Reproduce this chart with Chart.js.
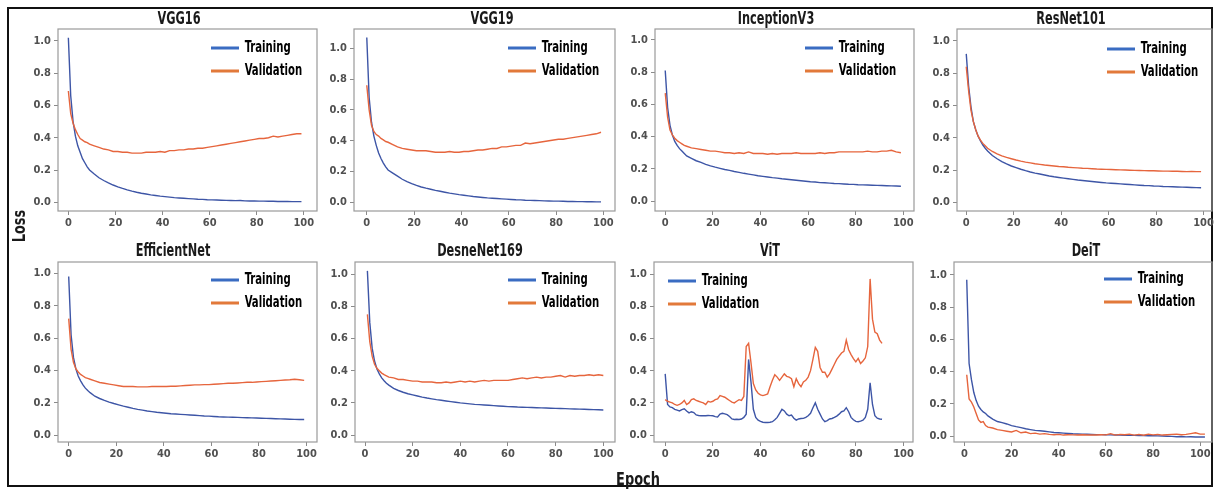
<!DOCTYPE html>
<html><head><meta charset="utf-8">
<script src="https://cdn.jsdelivr.net/npm/chart.js@4.4.1/dist/chart.umd.min.js"></script>
<style>
html,body{margin:0;padding:0;background:#fff;}
#wrap{position:relative;width:1217px;height:489px;overflow:hidden;background:#fff;}
#frame{position:absolute;left:7px;top:7px;width:1202px;height:476px;border:2px solid #111;}
canvas{position:absolute;}
.t{position:absolute;transform:translate(-50%,-50%) scaleX(0.74);font:bold 17px "Liberation Sans Narrow","DejaVu Sans Condensed",Arial,sans-serif;color:#1a1a1a;white-space:nowrap;}
.ax{position:absolute;font:bold 18px "Liberation Sans Narrow","DejaVu Sans Condensed",Arial,sans-serif;color:#1a1a1a;white-space:nowrap;}
</style></head><body>
<div id="wrap"><div id="frame"></div></div>
<script>
// ---------------- DATA ----------------
const xTicks = [0, 20, 40, 60, 80, 100];
const yTicks = [0.0, 0.2, 0.4, 0.6, 0.8, 1.0];
const seriesNames = ['Training', 'Validation'];

const epochs0 = [0,1,2,3,4,5,6,7,8,9,11,13,15,17,19,21,23,25,27,29,31,33,35,37,39,41,43,45,47,49,51,53,55,57,59,61,63,65,67,69,71,73,75,77,79,81,83,85,87,89,91,93,95,97,99];
const epochs1 = [1,2,3,4,5,6,7,8,9,10,12,14,16,18,20,22,24,26,28,30,32,34,36,38,40,42,44,46,48,50,52,54,56,58,60,62,64,66,68,70,72,74,76,78,80,82,84,86,88,90,92,94,96,98,100];
const deitEpochs = [1,2,3,4,5,6,7,8,9,10,12,14,16,18,20,22,24,26,28,30,32,34,36,38,40,42,44,46,48,50,52,54,56,58,60,62,64,66,68,70,72,74,76,78,80,82,84,86,88,90,92,94,96,98,100,102];
const vitEpochs = [0,1,2,3,4,5,6,7,8,9,10,11,12,13,14,15,16,17,18,19,20,21,22,23,24,25,26,27,28,29,30,31,32,33,34,35,36,37,38,39,40,41,42,43,44,45,46,47,48,49,50,51,52,53,54,55,56,57,58,59,60,61,62,63,64,65,66,67,68,69,70,71,72,73,74,75,76,77,78,79,80,81,82,83,84,85,86,87,88,89,90,91];

const vgg16Train = [1.02,0.66,0.5,0.41,0.35,0.31,0.27,0.245,0.22,0.2,
 0.175,0.152,0.135,0.12,0.107,0.096,0.086,0.077,0.069,0.062,
 0.056,0.051,0.046,0.042,0.038,0.035,0.032,0.029,0.027,0.025,
 0.023,0.021,0.019,0.018,0.016,0.015,0.014,0.013,0.012,0.011,
 0.01,0.011,0.009,0.008,0.008,0.007,0.007,0.006,0.006,0.005,
 0.005,0.005,0.004,0.004,0.004];
const vgg16Val = [0.69,0.55,0.49,0.45,0.42,0.395,0.385,0.375,0.37,0.36,
 0.35,0.34,0.33,0.325,0.315,0.315,0.31,0.31,0.305,0.305,
 0.305,0.31,0.31,0.31,0.315,0.31,0.32,0.32,0.325,0.325,
 0.33,0.33,0.335,0.335,0.34,0.345,0.35,0.355,0.36,0.365,
 0.37,0.375,0.38,0.385,0.39,0.395,0.395,0.4,0.41,0.405,
 0.41,0.415,0.42,0.425,0.425];

const vgg19Train = [1.07,0.68,0.52,0.43,0.37,0.32,0.285,0.255,0.23,0.21,
 0.19,0.17,0.15,0.135,0.122,0.11,0.1,0.092,0.085,0.078,
 0.072,0.066,0.06,0.055,0.05,0.046,0.042,0.038,0.035,0.032,
 0.029,0.027,0.025,0.023,0.021,0.019,0.017,0.016,0.014,0.013,
 0.012,0.011,0.01,0.009,0.008,0.008,0.007,0.006,0.006,0.005,
 0.005,0.004,0.004,0.003,0.003];
const vgg19Val = [0.76,0.6,0.5,0.46,0.44,0.43,0.415,0.405,0.395,0.39,
 0.375,0.36,0.35,0.345,0.34,0.335,0.335,0.335,0.33,0.325,
 0.325,0.325,0.33,0.325,0.325,0.33,0.33,0.335,0.34,0.34,
 0.345,0.35,0.35,0.36,0.36,0.365,0.37,0.37,0.385,0.38,
 0.385,0.39,0.395,0.4,0.405,0.41,0.41,0.415,0.42,0.425,
 0.43,0.435,0.44,0.445,0.455];

const inceptionTrain = [0.81,0.58,0.47,0.41,0.37,0.345,0.325,0.31,0.295,0.28,
 0.265,0.25,0.24,0.228,0.218,0.21,0.203,0.196,0.19,0.183,
 0.178,0.172,0.167,0.162,0.157,0.153,0.149,0.145,0.142,0.138,
 0.135,0.132,0.129,0.126,0.123,0.12,0.118,0.114,0.113,0.111,
 0.109,0.108,0.106,0.104,0.103,0.101,0.1,0.099,0.098,0.097,
 0.096,0.095,0.094,0.093,0.092];
const inceptionVal = [0.67,0.52,0.44,0.41,0.39,0.375,0.365,0.355,0.345,0.34,
 0.33,0.325,0.32,0.315,0.31,0.31,0.305,0.3,0.3,0.295,
 0.3,0.295,0.305,0.295,0.295,0.295,0.29,0.295,0.29,0.295,
 0.295,0.295,0.3,0.295,0.295,0.295,0.295,0.3,0.295,0.3,
 0.3,0.305,0.305,0.305,0.305,0.305,0.305,0.31,0.305,0.305,
 0.31,0.31,0.315,0.305,0.3];

const resnetTrain = [0.92,0.72,0.59,0.5,0.45,0.41,0.38,0.355,0.335,0.318,
 0.29,0.27,0.252,0.238,0.225,0.215,0.205,0.196,0.188,0.181,
 0.175,0.169,0.163,0.158,0.154,0.15,0.146,0.142,0.138,0.135,
 0.132,0.129,0.126,0.123,0.12,0.118,0.116,0.114,0.112,0.11,
 0.108,0.106,0.104,0.103,0.101,0.1,0.098,0.097,0.096,0.095,
 0.094,0.093,0.092,0.091,0.09];
const resnetVal = [0.84,0.69,0.57,0.5,0.45,0.41,0.385,0.365,0.35,0.335,
 0.315,0.3,0.288,0.278,0.27,0.262,0.255,0.249,0.244,0.239,
 0.235,0.231,0.228,0.225,0.222,0.22,0.217,0.215,0.213,0.211,
 0.21,0.208,0.206,0.205,0.204,0.203,0.202,0.201,0.2,0.199,
 0.198,0.197,0.196,0.195,0.195,0.194,0.193,0.193,0.192,0.192,
 0.191,0.19,0.191,0.19,0.19];

const effnetTrain = [0.98,0.62,0.48,0.41,0.365,0.335,0.31,0.29,0.275,0.262,
 0.24,0.226,0.214,0.204,0.195,0.187,0.179,0.172,0.165,0.159,
 0.154,0.149,0.145,0.141,0.138,0.135,0.132,0.13,0.128,0.126,
 0.124,0.122,0.12,0.118,0.117,0.115,0.113,0.112,0.111,0.11,
 0.109,0.108,0.107,0.106,0.105,0.104,0.103,0.102,0.101,0.1,
 0.099,0.098,0.097,0.096,0.096];
const effnetVal = [0.72,0.53,0.45,0.41,0.39,0.375,0.365,0.355,0.35,0.345,
 0.335,0.325,0.32,0.315,0.31,0.305,0.3,0.3,0.3,0.298,
 0.298,0.298,0.3,0.3,0.3,0.3,0.302,0.302,0.304,0.306,
 0.308,0.31,0.31,0.312,0.312,0.314,0.316,0.318,0.32,0.32,
 0.322,0.324,0.326,0.326,0.328,0.33,0.332,0.334,0.336,0.338,
 0.34,0.342,0.345,0.342,0.338];

const densenetTrain = [1.02,0.7,0.54,0.46,0.41,0.38,0.355,0.337,0.322,0.31,
 0.29,0.277,0.266,0.257,0.25,0.243,0.236,0.23,0.225,0.22,
 0.216,0.212,0.208,0.204,0.2,0.197,0.194,0.191,0.189,0.187,
 0.185,0.183,0.181,0.179,0.177,0.176,0.174,0.173,0.172,0.171,
 0.17,0.169,0.168,0.167,0.166,0.165,0.164,0.163,0.162,0.161,
 0.16,0.159,0.158,0.157,0.156];
const densenetVal = [0.75,0.58,0.49,0.44,0.415,0.4,0.385,0.375,0.368,0.36,
 0.355,0.345,0.345,0.34,0.335,0.335,0.33,0.33,0.33,0.325,
 0.325,0.33,0.325,0.33,0.335,0.33,0.335,0.33,0.335,0.34,
 0.335,0.34,0.34,0.34,0.34,0.345,0.35,0.355,0.35,0.355,
 0.36,0.355,0.36,0.36,0.365,0.37,0.36,0.37,0.365,0.37,
 0.37,0.375,0.37,0.375,0.37];

const vitTrain = [0.38,0.19,0.175,0.17,0.16,0.155,0.15,0.158,0.163,0.15,
 0.138,0.145,0.14,0.125,0.122,0.12,0.121,0.12,0.122,0.121,
 0.12,0.115,0.112,0.13,0.135,0.132,0.127,0.115,0.1,0.097,
 0.098,0.097,0.1,0.11,0.13,0.47,0.33,0.16,0.11,0.093,
 0.085,0.08,0.078,0.078,0.08,0.083,0.095,0.11,0.135,0.16,
 0.15,0.13,0.12,0.124,0.105,0.093,0.1,0.103,0.104,0.11,
 0.12,0.135,0.17,0.2,0.16,0.13,0.1,0.083,0.09,0.1,
 0.103,0.11,0.118,0.13,0.145,0.15,0.17,0.145,0.11,0.095,
 0.085,0.083,0.087,0.093,0.11,0.16,0.325,0.19,0.12,0.105,
 0.1,0.098];
const vitVal = [0.22,0.21,0.205,0.2,0.19,0.185,0.19,0.2,0.215,0.19,
 0.2,0.22,0.225,0.215,0.21,0.205,0.2,0.19,0.21,0.205,
 0.21,0.22,0.225,0.245,0.24,0.235,0.225,0.215,0.205,0.2,
 0.21,0.22,0.215,0.24,0.55,0.57,0.45,0.32,0.28,0.26,
 0.25,0.245,0.25,0.255,0.3,0.34,0.375,0.36,0.34,0.36,
 0.38,0.365,0.36,0.35,0.3,0.35,0.32,0.3,0.33,0.34,
 0.36,0.4,0.47,0.545,0.52,0.42,0.39,0.39,0.36,0.38,
 0.41,0.44,0.47,0.49,0.51,0.52,0.59,0.53,0.5,0.475,
 0.455,0.476,0.445,0.46,0.48,0.55,0.97,0.72,0.64,0.63,
 0.59,0.57];

const deitTrain = [0.97,0.45,0.35,0.27,0.22,0.185,0.165,0.15,0.14,0.125,
 0.105,0.09,0.083,0.075,0.065,0.058,0.052,0.045,0.04,0.035,
 0.033,0.03,0.026,0.022,0.02,0.018,0.016,0.014,0.013,0.012,
 0.011,0.01,0.009,0.009,0.008,0.007,0.006,0.006,0.005,0.004,
 0.004,0.003,0.003,0.002,0.002,0.001,0.0,-0.001,-0.002,-0.004,
 -0.003,-0.005,-0.004,-0.006,-0.006,-0.006];
const deitVal = [0.38,0.23,0.21,0.18,0.14,0.1,0.085,0.09,0.065,0.055,
 0.05,0.04,0.035,0.03,0.025,0.035,0.02,0.025,0.015,0.018,
 0.012,0.015,0.01,0.008,0.01,0.006,0.008,0.007,0.006,0.008,
 0.006,0.007,0.006,0.008,0.007,0.015,0.006,0.01,0.008,0.012,
 0.006,0.01,0.005,0.012,0.007,0.01,0.006,0.008,0.01,0.012,
 0.008,0.01,0.015,0.02,0.012,0.012];

// ---------------- LAYOUT / STYLE ----------------
const FONT = '"Liberation Sans Narrow", "DejaVu Sans Condensed", Arial, sans-serif';
const lineColors = ['#3d55a6', '#e6653d'];
const legendColors = ['#3a6cc2', '#e2793a'];
const LEGEND_SCALE = 0.75;

const panels = [
  {title:'VGG16', ep:epochs0, tr:vgg16Train, va:vgg16Val, box:[58,29,317,211], xr:[-4.4,105.6], yr:[-0.054,1.074], lg:[211,48], tp:[179,18]},
  {title:'VGG19', ep:epochs0, tr:vgg19Train, va:vgg19Val, box:[354,29,615,211], xr:[-5.4,104.9], yr:[-0.056,1.125], lg:[508,48], tp:[492,18]},
  {title:'InceptionV3', ep:epochs0, tr:inceptionTrain, va:inceptionVal, box:[655,29,914,211], xr:[-4.3,104.5], yr:[-0.062,1.068], lg:[805,48], tp:[776,18]},
  {title:'ResNet101', ep:epochs0, tr:resnetTrain, va:resnetVal, box:[957,29,1212,211], xr:[-3.9,103.6], yr:[-0.054,1.074], lg:[1107,49], tp:[1071,18]},
  {title:'EfficientNet', ep:epochs0, tr:effnetTrain, va:effnetVal, box:[58,262,317,442], xr:[-4.5,104.4], yr:[-0.043,1.07], lg:[211,280], tp:[173,250]},
  {title:'DesneNet169', ep:epochs1, tr:densenetTrain, va:densenetVal, box:[355,262,615,442], xr:[-4.2,104.9], yr:[-0.043,1.075], lg:[508,280], tp:[480,250]},
  {title:'ViT', ep:vitEpochs, tr:vitTrain, va:vitVal, box:[654,262,913,442], xr:[-4.7,104], yr:[-0.043,1.075], lg:[668,281], tp:[770,250]},
  {title:'DeiT', ep:deitEpochs, tr:deitTrain, va:deitVal, box:[954,262,1212,442], xr:[-4.4,105], yr:[-0.037,1.08], lg:[1104,279], tp:[1086,250]}
];

const wrap = document.getElementById('wrap');

const framePlugin = {
  id: 'frame',
  afterDraw(chart) {
    const a = chart.chartArea, ctx = chart.ctx;
    ctx.save();
    ctx.strokeStyle = '#9a9a9a';
    ctx.lineWidth = 1.2;
    ctx.strokeRect(a.left, a.top, a.right - a.left, a.bottom - a.top);
    ctx.restore();
  }
};

// places the Chart.js legend inside the plot and draws it horizontally condensed
const legendPlace = {
  id: 'legendPlace',
  beforeDraw(chart, args, opts) {
    const l = chart.legend;
    if (!l) return;
    const lab = chart.options.plugins.legend.labels;
    const pad = lab.padding, fs = lab.font.size;
    const S = opts.scale;
    // legend internal coordinates are unscaled around x0 = opts.x
    l.left = opts.x - pad * S;
    l.left = opts.x - pad; // cursor.x = left + pad
    l.width = 300; l.right = l.left + 300;
    l.top = opts.y - fs / 2 - pad;
    l.height = 140; l.bottom = l.top + 140;
    if (!l._wrapped) {
      const orig = l.draw.bind(l);
      l.draw = function (area) {
        const ctx = this.ctx;
        const x0 = this.left + this.options.labels.padding;
        ctx.save();
        ctx.translate(x0, 0);
        ctx.scale(S, 1);
        ctx.translate(-x0, 0);
        orig(area);
        ctx.restore();
      };
      l._wrapped = true;
    }
  }
};

function makePanel(p) {
  const padT = 10, padR = 12, yW = 50, xH = 24;
  const [L, T, R, B] = p.box;
  const cv = document.createElement('canvas');
  const w = R - L + yW + padR, h = B - T + padT + xH;
  const cl = L - yW, ct = T - padT;
  cv.width = w; cv.height = h;
  cv.style.left = cl + 'px'; cv.style.top = ct + 'px';
  cv.style.width = w + 'px'; cv.style.height = h + 'px';
  wrap.appendChild(cv);

  const tickFont = {family: FONT, size: 11, weight: 'bold'};
  new Chart(cv, {
    type: 'line',
    data: {
      datasets: [
        {label: seriesNames[0], data: p.ep.map((x, i) => ({x: x, y: p.tr[i]})), borderColor: lineColors[0], backgroundColor: lineColors[0], borderWidth: 1.4, pointRadius: 0, tension: 0, order: 2},
        {label: seriesNames[1], data: p.ep.map((x, i) => ({x: x, y: p.va[i]})), borderColor: lineColors[1], backgroundColor: lineColors[1], borderWidth: 1.4, pointRadius: 0, tension: 0, order: 1}
      ]
    },
    options: {
      responsive: false, animation: false, devicePixelRatio: 1,
      layout: {padding: {left: 0, top: padT, right: padR, bottom: 0}},
      events: [],
      scales: {
        x: {
          type: 'linear', min: p.xr[0], max: p.xr[1],
          afterFit: s => { s.height = xH; },
          afterBuildTicks: s => { s.ticks = xTicks.map(v => ({value: v})); },
          ticks: {font: tickFont, color: '#505050', padding: 2, maxRotation: 0, autoSkip: false, callback: v => String(v)},
          grid: {display: true, drawOnChartArea: false, drawTicks: true, tickLength: 4, color: '#8a8a8a'},
          border: {display: false}
        },
        y: {
          type: 'linear', min: p.yr[0], max: p.yr[1],
          afterFit: s => { s.width = yW; },
          afterBuildTicks: s => { s.ticks = yTicks.map(v => ({value: v})); },
          ticks: {font: tickFont, color: '#505050', padding: 3, autoSkip: false, callback: v => Number(v).toFixed(1)},
          grid: {display: true, drawOnChartArea: false, drawTicks: true, tickLength: 4, color: '#8a8a8a'},
          border: {display: false}
        }
      },
      plugins: {
        title: {display: false},
        tooltip: {enabled: false},
        legend: {
          display: true, position: 'chartArea', align: 'start',
          labels: {
            boxWidth: 28 / LEGEND_SCALE, boxHeight: 3, padding: 8, color: '#1a1a1a',
            font: {family: FONT, size: 15, weight: 'bold'},
            generateLabels: chart => chart.data.datasets.map((ds, i) => ({
              text: ds.label, fillStyle: legendColors[i], strokeStyle: legendColors[i],
              lineWidth: 0, hidden: false, datasetIndex: i
            }))
          }
        },
        legendPlace: {x: p.lg[0] - cl, y: p.lg[1] - ct, scale: LEGEND_SCALE}
      }
    },
    plugins: [framePlugin, legendPlace]
  });

  const t = document.createElement('div');
  t.className = 't';
  t.textContent = p.title;
  t.style.left = p.tp[0] + 'px'; t.style.top = p.tp[1] + 'px';
  wrap.appendChild(t);
}

panels.forEach(makePanel);

const loss = document.createElement('div');
loss.className = 'ax';
loss.textContent = 'Loss';
loss.style.left = '18px'; loss.style.top = '226px';
loss.style.transform = 'translate(-50%,-50%) rotate(-90deg) scaleX(0.8)';
wrap.appendChild(loss);

const epoch = document.createElement('div');
epoch.className = 'ax';
epoch.textContent = 'Epoch';
epoch.style.left = '638px'; epoch.style.top = '478px';
epoch.style.transform = 'translate(-50%,-50%) scaleX(0.8)';
wrap.appendChild(epoch);
</script>
</body></html>
